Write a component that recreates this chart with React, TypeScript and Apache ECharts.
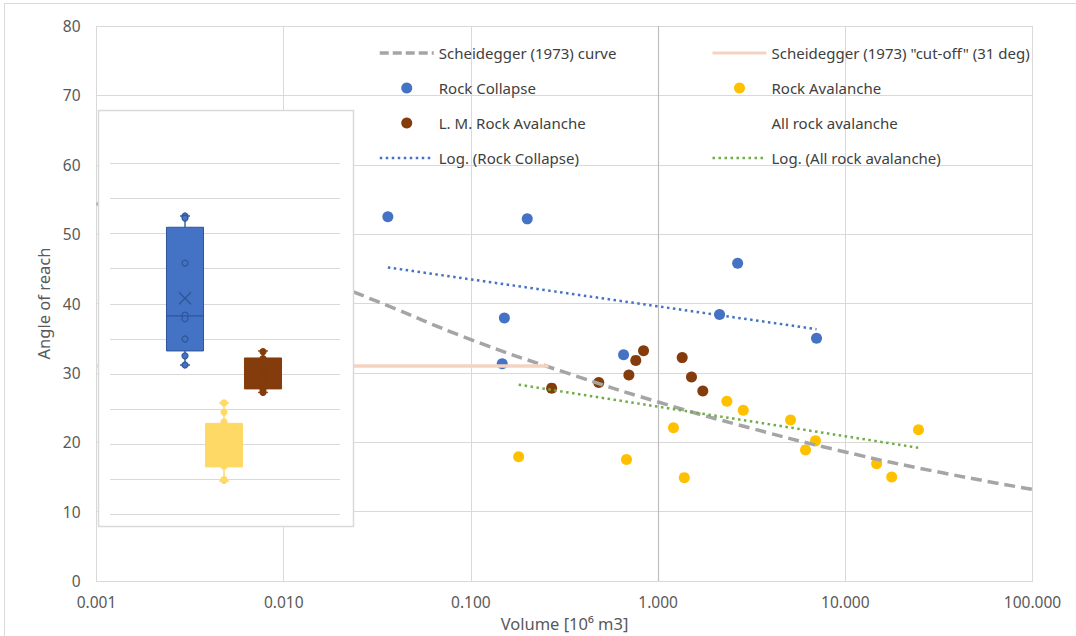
import React, { useEffect, useRef } from 'react';
import * as echarts from 'echarts';

// ---- main chart data (Volume [10^6 m3], angle of reach [deg]) ----
const rockCollapseX = [0.036, 0.2, 2.66, 2.13, 0.151, 7.02, 0.654, 0.147];
const rockCollapseY = [52.5, 52.2, 45.8, 38.4, 37.9, 35.0, 32.6, 31.3];

const lmRockAvX = [0.27, 0.482, 0.698, 0.76, 0.836, 1.345, 1.508, 1.733];
const lmRockAvY = [27.8, 28.6, 29.7, 31.8, 33.2, 32.2, 29.4, 27.4];

const rockAvX = [0.18, 0.678, 1.208, 1.38, 2.33, 2.85, 5.1, 6.13, 6.93, 14.7, 17.7, 24.6];
const rockAvY = [17.9, 17.5, 22.1, 14.9, 25.9, 24.6, 23.2, 18.9, 20.2, 16.9, 15.0, 21.8];

const scheideggerX = [0.001, 0.00316, 0.01, 0.0316, 0.1, 0.316, 1, 3.16, 10, 31.6, 100];
const scheideggerY = [54.4, 50.3, 45.6, 40.3, 34.8, 30.1, 25.8, 22.0, 18.6, 15.7, 13.2];

const cutoffX = [0.001, 0.26];
const cutoffY = [31, 31];

const trendCollapseX = [0.036, 7.02];
const trendCollapseY = [45.2, 36.3];

const trendAllX = [0.18, 24.6];
const trendAllY = [28.3, 19.2];

const yTicks = [0, 80, 10];
const xRange = [0.001, 100];

// ---- inset box plot data ----
const boxCategories = ['Rock Collapse', 'Rock Avalanche', 'L. M. Rock Avalanche'];
const boxMin = [31.3, 14.8, 27.4];
const boxQ1 = [33.3, 16.8, 27.9];
const boxMedian = [38.3, 19.7, 29.6];
const boxQ3 = [50.9, 23.0, 32.3];
const boxMax = [52.5, 25.9, 33.3];
const boxMean = [40.8, 19.9, 30.1];
const insetTicks = [10, 60, 5];

// styles
const boxFill = ['#4472C4', '#FFD966', '#843C0C'];
const boxEdge = ['#2F5597', '#FFD966', '#843C0C'];
const boxWhisker = ['#3B64AE', '#FFD966', '#9A5530'];

const zip = (xs: number[], ys: number[]) => xs.map((x, i) => [x, ys[i]]);

const LABEL_FONT = "'Noto Sans', 'Open Sans', sans-serif";
const LEGEND_FONT = "'Noto Sans', sans-serif";

export default function App() {
  const ref = useRef<HTMLDivElement>(null);
  useEffect(() => {
    if (!ref.current) return;
    const chart = echarts.init(ref.current, undefined, { renderer: 'svg' });

    const legendText = { fontFamily: LEGEND_FONT, fontSize: 15, color: '#404040', lineHeight: 20 };
    const hideSym = { opacity: 0 };

    const insetTop = 163.3;
    const insetHeight = 351.4;

    const option: any = {
      animation: false,
      backgroundColor: '#ffffff',
      graphic: [
        {
          type: 'rect',
          z: 0,
          silent: true,
          shape: { x: 4.5, y: 3.5, width: 1200, height: 1200 },
          style: { fill: 'none', stroke: '#D9D9D9', lineWidth: 1 },
        },
        {
          type: 'rect',
          z: 10,
          silent: true,
          shape: { x: 98.5, y: 110.5, width: 255, height: 416 },
          style: { fill: '#ffffff', stroke: '#D9D9D9', lineWidth: 1.5 },
        },
      ],
      legend: [
        {
          orient: 'vertical',
          left: 378,
          top: 43,
          padding: 0,
          itemWidth: 54,
          itemHeight: 11,
          itemGap: 15,
          selectedMode: false,
          textStyle: legendText,
          data: [
            {
              name: 'Scheidegger (1973) curve',
              itemStyle: hideSym,
              lineStyle: { width: 3.5, color: '#A5A5A5', type: [9, 4] },
            },
            'Rock Collapse',
            'L. M. Rock Avalanche',
            {
              name: 'Log. (Rock Collapse)',
              itemStyle: hideSym,
              lineStyle: { width: 2.5, color: '#4472C4', type: [2.5, 3.5] },
            },
          ],
        },
        {
          orient: 'vertical',
          left: 711,
          top: 43,
          padding: 0,
          itemWidth: 54,
          itemHeight: 11,
          itemGap: 15,
          selectedMode: false,
          textStyle: legendText,
          data: [
            {
              name: 'Scheidegger (1973) "cut-off" (31 deg)',
              itemStyle: hideSym,
              lineStyle: { width: 3, color: '#F5D3C2' },
            },
            'Rock Avalanche',
            'All rock avalanche',
            {
              name: 'Log. (All rock avalanche)',
              itemStyle: hideSym,
              lineStyle: { width: 2.5, color: '#70AD47', type: [2.5, 3.5] },
            },
          ],
        },
      ],
      grid: [
        { left: 96.5, top: 26, right: 43.5, bottom: 55, outerBoundsMode: 'none' },
        { left: 110, top: insetTop, width: 230, height: insetHeight, outerBoundsMode: 'none' },
        { left: 165.5, top: insetTop, width: 117, height: insetHeight, outerBoundsMode: 'none' },
      ],
      xAxis: [
        {
          gridIndex: 0,
          type: 'log',
          logBase: 10,
          min: xRange[0],
          max: xRange[1],
          axisTick: { show: false },
          axisLine: { show: true, lineStyle: { color: '#D9D9D9', width: 1 } },
          splitLine: { show: true, lineStyle: { color: '#D9D9D9', width: 1 } },
          axisLabel: {
            margin: 13,
            color: '#595959',
            fontFamily: LABEL_FONT,
            fontSize: 15.5,
            formatter: (v: number) => v.toFixed(3),
          },
          name: 'Volume [10⁶ m3]',
          nameLocation: 'middle',
          nameGap: 32,
          nameTextStyle: { color: '#595959', fontFamily: LABEL_FONT, fontSize: 16.5 },
        },
        { gridIndex: 1, type: 'value', show: false, min: 0, max: 1 },
        { gridIndex: 2, type: 'category', show: false, data: boxCategories, boundaryGap: true },
      ],
      yAxis: [
        {
          gridIndex: 0,
          type: 'value',
          min: yTicks[0],
          max: yTicks[1],
          interval: yTicks[2],
          axisLine: { show: false },
          axisTick: { show: false },
          splitLine: { show: true, lineStyle: { color: '#D9D9D9', width: 1 } },
          axisLabel: { margin: 16, color: '#595959', fontFamily: LABEL_FONT, fontSize: 15.5 },
          name: 'Angle of reach',
          nameLocation: 'middle',
          nameRotate: 90,
          nameGap: 43,
          nameTextStyle: { color: '#595959', fontFamily: LABEL_FONT, fontSize: 16.5 },
        },
        {
          gridIndex: 1,
          type: 'value',
          z: 11,
          min: insetTicks[0],
          max: insetTicks[1],
          interval: insetTicks[2],
          axisLine: { show: false },
          axisTick: { show: false },
          axisLabel: { show: false },
          splitLine: { show: true, lineStyle: { color: '#D9D9D9', width: 1.2 } },
        },
        {
          gridIndex: 2,
          type: 'value',
          show: false,
          min: insetTicks[0],
          max: insetTicks[1],
          splitLine: { show: false },
        },
      ],
      series: [
        {
          name: 'Scheidegger (1973) curve',
          type: 'line',
          xAxisIndex: 0,
          yAxisIndex: 0,
          symbol: 'none',
          smooth: true,
          data: zip(scheideggerX, scheideggerY),
          lineStyle: { color: '#A5A5A5', width: 3.5, type: [11, 6] },
          itemStyle: { color: '#A5A5A5' },
          markLine: {
            silent: true,
            symbol: 'none',
            label: { show: false },
            lineStyle: { color: '#BFBFBF', width: 1.2, type: 'solid' },
            data: [{ xAxis: 1 }],
            z: 1,
          },
        },
        {
          name: 'Scheidegger (1973) "cut-off" (31 deg)',
          type: 'line',
          symbol: 'none',
          data: zip(cutoffX, cutoffY),
          lineStyle: { color: '#F5D3C2', width: 3.5 },
          itemStyle: { color: '#F5D3C2' },
        },
        {
          name: 'Rock Collapse',
          type: 'scatter',
          symbolSize: 11,
          data: zip(rockCollapseX, rockCollapseY),
          itemStyle: { color: '#4472C4', opacity: 1 },
        },
        {
          name: 'Rock Avalanche',
          type: 'scatter',
          symbolSize: 11,
          data: zip(rockAvX, rockAvY),
          itemStyle: { color: '#FFC000', opacity: 1 },
        },
        {
          name: 'L. M. Rock Avalanche',
          type: 'scatter',
          symbolSize: 11,
          data: zip(lmRockAvX, lmRockAvY),
          itemStyle: { color: '#843C0C', opacity: 1 },
        },
        {
          name: 'All rock avalanche',
          type: 'scatter',
          data: [],
          itemStyle: { color: 'rgba(0,0,0,0)' },
        },
        {
          name: 'Log. (Rock Collapse)',
          type: 'line',
          symbol: 'none',
          data: zip(trendCollapseX, trendCollapseY),
          lineStyle: { color: '#4472C4', width: 2.5, type: [2.5, 3.5] },
          itemStyle: { color: '#4472C4' },
        },
        {
          name: 'Log. (All rock avalanche)',
          type: 'line',
          symbol: 'none',
          data: zip(trendAllX, trendAllY),
          lineStyle: { color: '#70AD47', width: 2.5, type: [2.5, 3.5] },
          itemStyle: { color: '#70AD47' },
        },
        // ---- inset box plot ----
        {
          name: 'box',
          type: 'custom',
          xAxisIndex: 2,
          yAxisIndex: 2,
          z: 12,
          silent: true,
          data: boxCategories.map((c, i) => [i, boxMin[i], boxQ1[i], boxMedian[i], boxQ3[i], boxMax[i], boxMean[i]]),
          encode: { x: 0, y: [1, 2, 3, 4, 5, 6] },
          renderItem: (params: any, api: any) => {
            const i = api.value(0);
            const bw = api.size([1, 0])[0] * 0.95;
            const pMin = api.coord([i, api.value(1)]);
            const pQ1 = api.coord([i, api.value(2)]);
            const pMed = api.coord([i, api.value(3)]);
            const pQ3 = api.coord([i, api.value(4)]);
            const pMax = api.coord([i, api.value(5)]);
            const pMean = api.coord([i, api.value(6)]);
            const cx = pMed[0];
            const capW = 5;
            const wStyle = { stroke: boxWhisker[i], lineWidth: 1.5 };
            const xs = 6;
            return {
              type: 'group',
              children: [
                { type: 'line', shape: { x1: cx, y1: pMax[1], x2: cx, y2: pQ3[1] }, style: wStyle },
                { type: 'line', shape: { x1: cx - capW, y1: pMax[1], x2: cx + capW, y2: pMax[1] }, style: wStyle },
                { type: 'line', shape: { x1: cx, y1: pMin[1], x2: cx, y2: pQ1[1] }, style: wStyle },
                { type: 'line', shape: { x1: cx - capW, y1: pMin[1], x2: cx + capW, y2: pMin[1] }, style: wStyle },
                {
                  type: 'rect',
                  shape: { x: cx - bw / 2, y: pQ3[1], width: bw, height: pQ1[1] - pQ3[1] },
                  style: { fill: boxFill[i], stroke: boxEdge[i], lineWidth: 1 },
                },
                {
                  type: 'line',
                  shape: { x1: cx - bw / 2, y1: pMed[1], x2: cx + bw / 2, y2: pMed[1] },
                  style: { stroke: boxEdge[i], lineWidth: 1.2 },
                },
                {
                  type: 'line',
                  shape: { x1: cx - xs, y1: pMean[1] - xs, x2: cx + xs, y2: pMean[1] + xs },
                  style: { stroke: boxEdge[i], lineWidth: 1.2 },
                },
                {
                  type: 'line',
                  shape: { x1: cx - xs, y1: pMean[1] + xs, x2: cx + xs, y2: pMean[1] - xs },
                  style: { stroke: boxEdge[i], lineWidth: 1.2 },
                },
              ],
            };
          },
        },
        {
          name: 'box points rc',
          type: 'scatter',
          xAxisIndex: 2,
          yAxisIndex: 2,
          z: 13,
          silent: true,
          symbolSize: 6,
          data: rockCollapseY.map((y) => [0, y]),
          itemStyle: { color: boxFill[0], borderColor: boxEdge[0], borderWidth: 1.2, opacity: 1 },
        },
        {
          name: 'box points ra',
          type: 'scatter',
          xAxisIndex: 2,
          yAxisIndex: 2,
          z: 13,
          silent: true,
          symbolSize: 6,
          data: rockAvY.map((y) => [1, y]),
          itemStyle: { color: boxFill[1], borderColor: boxEdge[1], borderWidth: 1.2, opacity: 1 },
        },
        {
          name: 'box points lm',
          type: 'scatter',
          xAxisIndex: 2,
          yAxisIndex: 2,
          z: 13,
          silent: true,
          symbolSize: 6,
          data: lmRockAvY.map((y) => [2, y]),
          itemStyle: { color: boxFill[2], borderColor: boxEdge[2], borderWidth: 1.2, opacity: 1 },
        },
      ],
    };

    chart.setOption(option);
    return () => chart.dispose();
  }, []);

  return (
    <div
      ref={ref}
      style={{ position: 'fixed', left: 0, top: 0, width: 1076, height: 636, background: '#fff' }}
    />
  );
}
